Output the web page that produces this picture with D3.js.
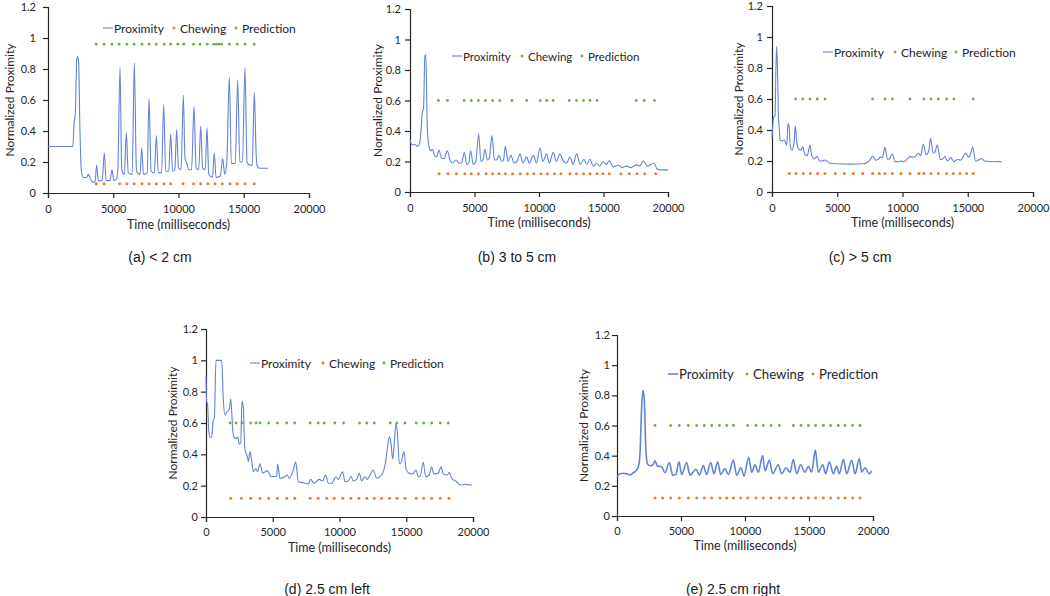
<!DOCTYPE html>
<html><head><meta charset="utf-8">
<script src="https://cdn.jsdelivr.net/npm/d3@7/dist/d3.min.js"></script>
<style>body{margin:0;background:#fff}svg{display:block}</style>
</head><body>
<svg id="chart" width="1050" height="596"></svg>
<script>
// ---------- DATA ----------
const xTickValues = [0, 5000, 10000, 15000, 20000];
const yTickValues = [0, 0.2, 0.4, 0.6, 0.8, 1, 1.2];
const seriesNames = ["Proximity", "Chewing", "Prediction"];
const captions = ["(a) < 2 cm", "(b) 3 to 5 cm", "(c) > 5 cm", "(d) 2.5 cm left", "(e) 2.5 cm right"];
const xAxisTitle = "Time (milliseconds)";
const yAxisTitle = "Normalized Proximity";
const chewingLevels = [0.06, 0.12, 0.12, 0.12, 0.12];
const predictionLevels = [0.96, 0.6, 0.6, 0.6, 0.6];

const proximityA = [[0,0.30],[1900,0.30],[2000,0.45],[2100,0.52],[2200,0.86],[2280,0.88],[2350,0.84],[2450,0.40],[2550,0.15],[2700,0.10],[2950,0.10],[3100,0.12],[3250,0.09],[3450,0.07],[3600,0.07],[3730,0.18],[3850,0.08],[4150,0.08],[4320,0.26],[4450,0.08],[4750,0.08],[4900,0.15],[5050,0.08],[5250,0.09],[5350,0.15],[5520,0.81],[5650,0.15],[5850,0.12],[6000,0.39],[6150,0.13],[6450,0.12],[6615,0.84],[6780,0.14],[7050,0.12],[7180,0.29],[7320,0.12],[7600,0.13],[7740,0.61],[7900,0.14],[8150,0.13],[8300,0.37],[8450,0.13],[8700,0.13],[8865,0.57],[9020,0.14],[9250,0.14],[9400,0.38],[9550,0.14],[9720,0.15],[9860,0.41],[10000,0.16],[10200,0.15],[10370,0.63],[10500,0.22],[10600,0.20],[10800,0.15],[11000,0.15],[11190,0.56],[11350,0.16],[11550,0.15],[11700,0.43],[11850,0.16],[12050,0.15],[12185,0.42],[12320,0.12],[12600,0.10],[12745,0.26],[12880,0.10],[13200,0.11],[13385,0.22],[13550,0.12],[13700,0.20],[13895,0.75],[14050,0.19],[14350,0.19],[14535,0.73],[14700,0.20],[14900,0.20],[15095,0.81],[15250,0.20],[15450,0.18],[15650,0.18],[15810,0.65],[15950,0.25],[16050,0.17],[16200,0.16],[16850,0.16]];
const chewingA = [3700,4300,5500,6050,6600,7200,7750,8300,8900,9400,10350,11150,11700,12250,12800,13350,13950,14500,15100,15800];
const predictionA = [3700,4300,4900,5450,6050,6600,7200,7750,8300,8900,9400,9950,10400,11150,11650,12200,12700,12900,13100,13300,13900,14500,15100,15800];

const proximityB = [[0,0.345],[150,0.31],[400,0.31],[600,0.30],[750,0.32],[850,0.40],[950,0.52],[1050,0.55],[1150,0.89],[1230,0.90],[1320,0.50],[1400,0.34],[1500,0.29],[1600,0.27],[1731,0.28],[1900,0.24],[2050,0.23],[2248,0.275],[2450,0.22],[2650,0.22],[2893,0.27],[3100,0.21],[3300,0.19],[3565,0.21],[3800,0.19],[4000,0.19],[4211,0.26],[4400,0.18],[4550,0.19],[4702,0.27],[4900,0.18],[5100,0.20],[5322,0.38],[5500,0.20],[5650,0.21],[5813,0.28],[6000,0.21],[6150,0.22],[6355,0.37],[6550,0.21],[6700,0.21],[6898,0.24],[7100,0.20],[7250,0.21],[7388,0.30],[7600,0.20],[7828,0.24],[8050,0.19],[8300,0.20],[8525,0.25],[8750,0.19],[9042,0.23],[9250,0.19],[9558,0.24],[9800,0.19],[10075,0.29],[10300,0.20],[10592,0.25],[10800,0.19],[11108,0.26],[11350,0.20],[11625,0.25],[11900,0.20],[12150,0.19],[12400,0.23],[12650,0.18],[12917,0.25],[13200,0.18],[13485,0.215],[13700,0.18],[13950,0.215],[14200,0.17],[14467,0.19],[14700,0.17],[14983,0.20],[15200,0.18],[15448,0.205],[15750,0.165],[16146,0.175],[16450,0.16],[16792,0.17],[17100,0.16],[17567,0.178],[17800,0.17],[18083,0.205],[18400,0.17],[18908,0.19],[19167,0.15],[19500,0.145],[20000,0.145]];
const chewingB = [2250,2950,3600,4250,4750,5300,5900,6400,6900,7400,7950,8550,9100,9600,10150,10650,11200,11700,12400,12900,13450,13950,14500,14950,15450,16350,17000,17600,18200,19050];
const predictionB = [2200,2900,4200,4750,5300,5850,6400,6950,7900,9050,10100,10600,11100,12350,12900,13450,13950,14500,17550,18150,18950];

const proximityC = [[0,0.35],[120,0.48],[230,0.49],[300,0.80],[357,0.94],[420,0.80],[490,0.50],[560,0.40],[613,0.335],[800,0.33],[950,0.335],[1124,0.30],[1180,0.38],[1230,0.44],[1300,0.43],[1400,0.30],[1532,0.27],[1700,0.33],[1787,0.425],[1900,0.32],[2017,0.28],[2200,0.27],[2349,0.292],[2528,0.24],[2700,0.235],[2911,0.303],[3050,0.23],[3250,0.215],[3472,0.228],[3650,0.20],[3850,0.20],[4060,0.206],[4443,0.185],[5000,0.182],[6000,0.18],[7000,0.182],[7300,0.19],[7500,0.205],[7712,0.232],[7950,0.205],[8100,0.21],[8323,0.225],[8450,0.22],[8656,0.288],[8850,0.21],[9000,0.215],[9215,0.245],[9450,0.196],[9700,0.195],[9855,0.20],[10100,0.195],[10350,0.21],[10571,0.228],[10800,0.225],[11000,0.23],[11210,0.25],[11400,0.235],[11592,0.31],[11800,0.24],[12000,0.26],[12153,0.346],[12350,0.25],[12500,0.26],[12664,0.303],[12900,0.21],[13100,0.215],[13252,0.228],[13450,0.20],[13700,0.222],[13950,0.195],[14200,0.21],[14450,0.205],[14836,0.25],[15050,0.225],[15200,0.24],[15371,0.29],[15600,0.20],[15800,0.205],[16047,0.216],[16300,0.20],[17000,0.195],[17587,0.196]];
const chewingC = [1330,1840,2400,2940,3500,4060,4850,5540,6230,6950,7710,8220,8660,9220,9880,10570,11260,11640,12180,12740,13380,13890,14400,14910,15420];
const predictionC = [1810,2350,2910,3470,4060,7710,8660,9220,10570,11640,12180,12740,13380,13940,15420];

const proximityD = [[0,0.895],[50,0.736],[120,0.72],[200,0.555],[300,0.509],[424,0.51],[549,0.62],[624,0.63],[749,1.0],[1173,1.0],[1298,0.747],[1423,0.65],[1548,0.67],[1748,0.69],[1848,0.753],[1922,0.68],[1997,0.56],[2097,0.51],[2247,0.50],[2372,0.51],[2497,0.466],[2597,0.47],[2696,0.74],[2796,0.70],[2896,0.449],[2996,0.406],[3096,0.385],[3171,0.353],[3296,0.417],[3421,0.36],[3545,0.289],[3720,0.31],[3870,0.289],[4045,0.34],[4244,0.28],[4594,0.296],[4918,0.257],[5293,0.26],[5368,0.338],[5543,0.247],[5917,0.257],[6092,0.268],[6242,0.247],[6541,0.30],[6716,0.353],[6916,0.225],[7290,0.219],[7665,0.21],[7840,0.24],[8089,0.215],[8489,0.24],[8739,0.23],[8963,0.268],[9163,0.215],[9413,0.215],[9737,0.257],[9912,0.24],[10236,0.289],[10411,0.225],[10661,0.23],[10861,0.26],[11035,0.23],[11285,0.24],[11485,0.28],[11660,0.23],[11909,0.257],[12084,0.24],[12234,0.26],[12533,0.30],[12783,0.247],[13158,0.268],[13457,0.353],[13607,0.45],[13732,0.512],[13857,0.47],[13981,0.37],[14106,0.47],[14231,0.60],[14356,0.51],[14481,0.34],[14581,0.34],[14830,0.417],[14980,0.31],[15155,0.283],[15480,0.275],[15729,0.30],[15904,0.257],[16029,0.257],[16278,0.349],[16453,0.257],[16728,0.268],[16902,0.32],[17077,0.275],[17402,0.28],[17602,0.32],[17776,0.275],[18076,0.268],[18226,0.283],[18400,0.247],[18775,0.225],[19025,0.204],[19399,0.208],[19899,0.204]];
const chewingD = [1850,2650,3350,4050,4700,5350,6050,6650,7800,8400,9050,9600,10250,10850,11450,12050,12600,13150,13750,14300,14900,15750,16300,16900,17550,18200];
const predictionD = [1800,2250,2700,3350,3750,4050,4700,5350,6050,6650,7800,8400,8850,9650,10300,11500,12050,12600,13800,14300,14900,15750,16300,16900,17550,18150];

const proximityE = [[0,0.26],[234,0.28],[495,0.283],[755,0.28],[1016,0.272],[1276,0.287],[1484,0.30],[1667,0.327],[1797,0.415],[1927,0.724],[2031,0.834],[2135,0.77],[2266,0.415],[2396,0.344],[2578,0.333],[2786,0.338],[2969,0.366],[3151,0.331],[3490,0.327],[3750,0.287],[4089,0.355],[4349,0.27],[4600,0.275],[4844,0.36],[5052,0.275],[5443,0.355],[5703,0.27],[6172,0.31],[6432,0.27],[6745,0.335],[7005,0.275],[7318,0.355],[7578,0.28],[7865,0.36],[8099,0.275],[8438,0.315],[8698,0.275],[9089,0.37],[9349,0.27],[9687,0.32],[9922,0.265],[10286,0.39],[10521,0.29],[10781,0.34],[11042,0.29],[11380,0.40],[11563,0.30],[11901,0.37],[12161,0.28],[12604,0.34],[12865,0.28],[13203,0.32],[13516,0.29],[13776,0.375],[14036,0.28],[14349,0.34],[14688,0.29],[14948,0.33],[15208,0.29],[15495,0.437],[15729,0.29],[16068,0.34],[16302,0.28],[16589,0.36],[16901,0.28],[17161,0.33],[17370,0.28],[17682,0.375],[17943,0.28],[18333,0.37],[18594,0.28],[18932,0.38],[19115,0.29],[19375,0.32],[19714,0.28],[19896,0.30]];
const chewingE = [2970,3570,4190,4870,5570,6220,6820,7400,8050,8570,9090,9660,10210,10860,11430,12030,12680,13200,13780,14380,14950,15520,16120,16690,17290,17810,18410,18980];
const predictionE = [2970,4190,4870,5570,6220,6820,7400,8000,8570,9090,10210,10860,11430,12030,12680,13780,14380,14950,15520,16120,16690,17290,17810,18410,18980];

const proximitySeries = [proximityA, proximityB, proximityC, proximityD, proximityE];
const chewingSeries = [chewingA, chewingB, chewingC, chewingD, chewingE];
const predictionSeries = [predictionA, predictionB, predictionC, predictionD, predictionE];

// ---------- LAYOUT / STYLE ----------
const panels = [
  {x0:48,  x1:309, yb:193, yt:7,   labGap:12, tickY:213, titleY:229, yTitleX:9,   capX:160, capY:262, leg:{y:28,  fs:12,  l:103, t:114, c:174, ct:180, p:236, pt:242}, lw:1.1},
  {x0:410, x1:668, yb:192, yt:9,   labGap:9,  tickY:212, titleY:227, yTitleX:377, capX:517, capY:262, leg:{y:56,  fs:11.5,l:452, t:463, c:522, ct:528, p:582, pt:588}, lw:1.1},
  {x0:772, x1:1033,yb:192, yt:6,   labGap:9,  tickY:212, titleY:227, yTitleX:738, capX:860, capY:262, leg:{y:52,  fs:12,  l:823, t:834, c:895, ct:901, p:956, pt:962}, lw:1.1},
  {x0:206, x1:473, yb:517, yt:329, labGap:8,  tickY:536, titleY:552, yTitleX:172, capX:327, capY:594, leg:{y:363, fs:12,  l:250, t:261, c:323, ct:329, p:384, pt:390}, lw:1.1},
  {x0:617, x1:873, yb:516, yt:335, labGap:7,  tickY:535, titleY:550, yTitleX:583, capX:733, capY:594, leg:{y:374, fs:13.2,l:668, t:679, c:747, ct:753, p:813, pt:819}, lw:1.6}
];
const lineColor = "#6283d6", chewColor = "#ed7d31", predColor = "#70ad47";
const axisColor = "#262626", textColor = "#262626";
const font = "Lato, 'Open Sans', sans-serif";

const svg = d3.select("#chart");
svg.append("rect").attr("width",1050).attr("height",596).attr("fill","#fff");

panels.forEach((p, i) => {
  const x = d3.scaleLinear().domain([0, 20000]).range([p.x0, p.x1]);
  const y = d3.scaleLinear().domain([0, 1.2]).range([p.yb, p.yt]);
  const g = svg.append("g");

  const ya = g.append("g").attr("transform", `translate(${p.x0},0)`)
    .call(d3.axisLeft(y).tickValues(yTickValues).tickSize(5).tickPadding(p.labGap - 5)
      .tickFormat(d => d3.format("~g")(d)));
  const xa = g.append("g").attr("transform", `translate(0,${p.yb})`)
    .call(d3.axisBottom(x).tickValues(xTickValues).tickSize(5).tickFormat(d3.format("d")));
  [ya, xa].forEach(a => {
    a.select(".domain").attr("stroke", axisColor).attr("stroke-width", 1.2);
    a.selectAll(".tick line").attr("stroke", axisColor).attr("stroke-width", 1.2);
    a.selectAll("text").attr("fill", textColor).style("font-family", font).style("font-size", "11px");
  });
  xa.selectAll(".tick text").attr("y", null).attr("dy", null)
    .attr("transform", `translate(0,${p.tickY - p.yb})`);

  g.append("text").attr("x", (p.x0 + p.x1) / 2).attr("y", p.titleY).attr("text-anchor", "middle")
    .attr("fill", textColor).style("font-family", font).style("font-size", "12.5px").text(xAxisTitle);
  g.append("text").attr("transform", `translate(${p.yTitleX},${(p.yb + p.yt) / 2}) rotate(-90)`)
    .attr("text-anchor", "middle").attr("dominant-baseline", "central")
    .attr("fill", textColor).style("font-family", font).style("font-size", "12px").text(yAxisTitle);

  const line = d3.line().x(d => x(d[0])).y(d => y(d[1])).curve(d3.curveMonotoneX);
  g.append("path").datum(proximitySeries[i]).attr("d", line)
    .attr("fill", "none").attr("stroke", lineColor).attr("stroke-width", p.lw).attr("stroke-linejoin", "round");

  g.selectAll(null).data(chewingSeries[i]).enter().append("circle")
    .attr("cx", d => x(d)).attr("cy", y(chewingLevels[i])).attr("r", 1.5).attr("fill", chewColor);
  g.selectAll(null).data(predictionSeries[i]).enter().append("circle")
    .attr("cx", d => x(d)).attr("cy", y(predictionLevels[i])).attr("r", 1.4).attr("fill", predColor);

  const L = p.leg;
  g.append("line").attr("x1", L.l).attr("x2", L.t - 1).attr("y1", L.y).attr("y2", L.y)
    .attr("stroke", lineColor).attr("stroke-width", p.lw);
  g.append("circle").attr("cx", L.c).attr("cy", L.y).attr("r", 1.5).attr("fill", chewColor);
  g.append("circle").attr("cx", L.p).attr("cy", L.y).attr("r", 1.4).attr("fill", predColor);
  [[L.t, seriesNames[0]], [L.ct, seriesNames[1]], [L.pt, seriesNames[2]]].forEach(([tx, s]) => {
    g.append("text").attr("x", tx).attr("y", L.y).attr("dominant-baseline", "central")
      .attr("fill", textColor).style("font-family", font).style("font-size", L.fs + "px").text(s);
  });

  g.append("text").attr("x", p.capX).attr("y", p.capY).attr("text-anchor", "middle")
    .attr("fill", "#1a1a1a").style("font-family", "'Liberation Sans', Arial, sans-serif").style("font-size", "14px")
    .text(captions[i]);
});
</script>
</body></html>
